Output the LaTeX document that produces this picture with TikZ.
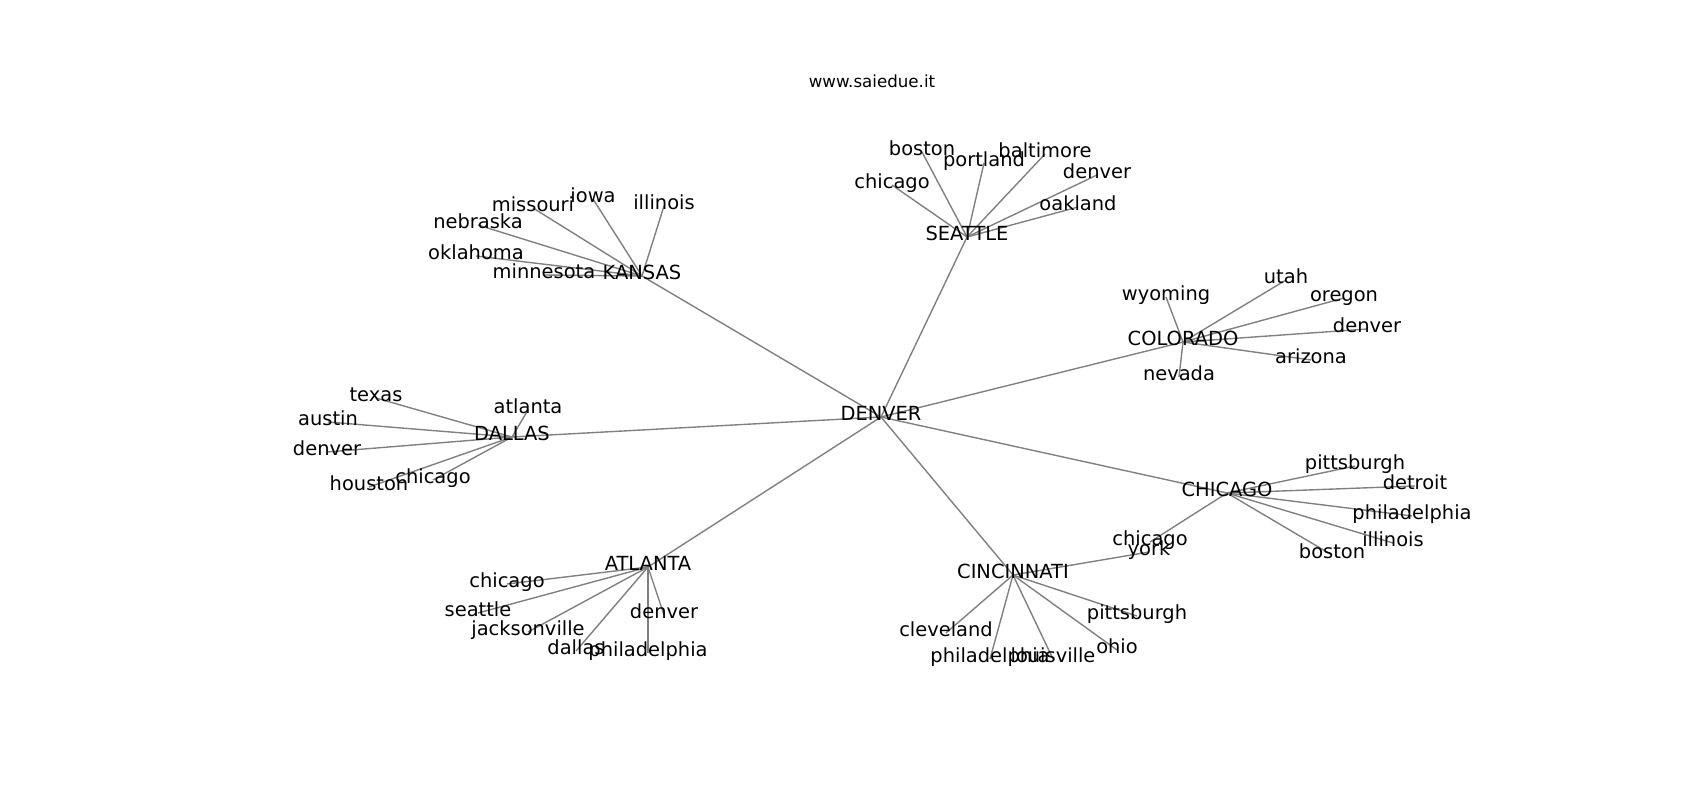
\documentclass[tikz,border=0pt]{standalone}
\usepackage{fontspec}
\setmainfont{DejaVu Sans}
\usetikzlibrary{backgrounds}
\tikzset{
  lbl/.style={font=\fontsize{14}{16}\selectfont, inner sep=0pt, text height=0.76em, text depth=0.24em, anchor=center},
  ttl/.style={font=\fontsize{12}{14}\selectfont, inner sep=0pt, text height=0.76em, text depth=0.24em, anchor=center},
  edge/.style={draw=black!50, line width=1pt}
}
\begin{document}
\begin{tikzpicture}[x=0.72pt,y=-0.72pt]
\useasboundingbox (0,0) rectangle (1700,800);
\node[ttl] (title) at (872,84) {www.saiedue.it};
% hubs
\node[lbl] (denver) at (881,417) {DENVER};
\node[lbl] (kansas) at (642,276) {KANSAS};
\node[lbl] (seattle) at (967,237) {SEATTLE};
\node[lbl] (colorado) at (1183,342) {COLORADO};
\node[lbl] (dallas) at (512,437) {DALLAS};
\node[lbl] (atlanta) at (648,567) {ATLANTA};
\node[lbl] (cincinnati) at (1013,575) {CINCINNATI};
\node[lbl] (chicago) at (1227,493) {CHICAGO};
% kansas leaves
\node[lbl] (k1) at (664,206) {illinois};
\node[lbl] (k2) at (593,199) {iowa};
\node[lbl] (k3) at (533,208) {missouri};
\node[lbl] (k4) at (478,225) {nebraska};
\node[lbl] (k5) at (476,256) {oklahoma};
\node[lbl] (k6) at (544,275) {minnesota};
% seattle leaves
\node[lbl] (s1) at (892,185) {chicago};
\node[lbl] (s2) at (922,152) {boston};
\node[lbl] (s3) at (984,163) {portland};
\node[lbl] (s4) at (1045,154) {baltimore};
\node[lbl] (s5) at (1097,175) {denver};
\node[lbl] (s6) at (1078,207) {oakland};
% colorado leaves
\node[lbl] (c1) at (1166,297) {wyoming};
\node[lbl] (c2) at (1286,280) {utah};
\node[lbl] (c3) at (1344,298) {oregon};
\node[lbl] (c4) at (1367,329) {denver};
\node[lbl] (c5) at (1311,360) {arizona};
\node[lbl] (c6) at (1179,377) {nevada};
% dallas leaves
\node[lbl] (d1) at (376,398) {texas};
\node[lbl] (d2) at (528,410) {atlanta};
\node[lbl] (d3) at (328,422) {austin};
\node[lbl] (d4) at (327,452) {denver};
\node[lbl] (d5) at (369,487) {houston};
\node[lbl] (d6) at (433,480) {chicago};
% atlanta leaves
\node[lbl] (a1) at (507,584) {chicago};
\node[lbl] (a2) at (478,613) {seattle};
\node[lbl] (a3) at (528,632) {jacksonville};
\node[lbl] (a4) at (576,651) {dallas};
\node[lbl] (a5) at (648,653) {philadelphia};
\node[lbl] (a6) at (664,615) {denver};
% cincinnati leaves
\node[lbl] (n1) at (1149,552) {york};
\node[lbl] (n2) at (1137,616) {pittsburgh};
\node[lbl] (n3) at (946,633) {cleveland};
\node[lbl] (n4) at (990,659) {philadelphia};
\node[lbl] (n5) at (1053,659) {louisville};
\node[lbl] (n6) at (1117,650) {ohio};
% chicago leaves
\node[lbl] (h1) at (1150,542) {chicago};
\node[lbl] (h2) at (1355,466) {pittsburgh};
\node[lbl] (h3) at (1415,486) {detroit};
\node[lbl] (h4) at (1412,516) {philadelphia};
\node[lbl] (h5) at (1393,543) {illinois};
\node[lbl] (h6) at (1332,555) {boston};
\begin{pgfonlayer}{background}
\fill[white] (0,0) rectangle (1700,800);
\foreach \h in {kansas,seattle,colorado,dallas,atlanta,cincinnati,chicago}
  \draw[edge] (denver.center) -- (\h.center);
\foreach \i in {1,...,6} {
  \draw[edge] (kansas.center) -- (k\i.center);
  \draw[edge] (seattle.center) -- (s\i.center);
  \draw[edge] (colorado.center) -- (c\i.center);
  \draw[edge] (dallas.center) -- (d\i.center);
  \draw[edge] (atlanta.center) -- (a\i.center);
  \draw[edge] (cincinnati.center) -- (n\i.center);
  \draw[edge] (chicago.center) -- (h\i.center);
}
\end{pgfonlayer}
\end{tikzpicture}
\end{document}
